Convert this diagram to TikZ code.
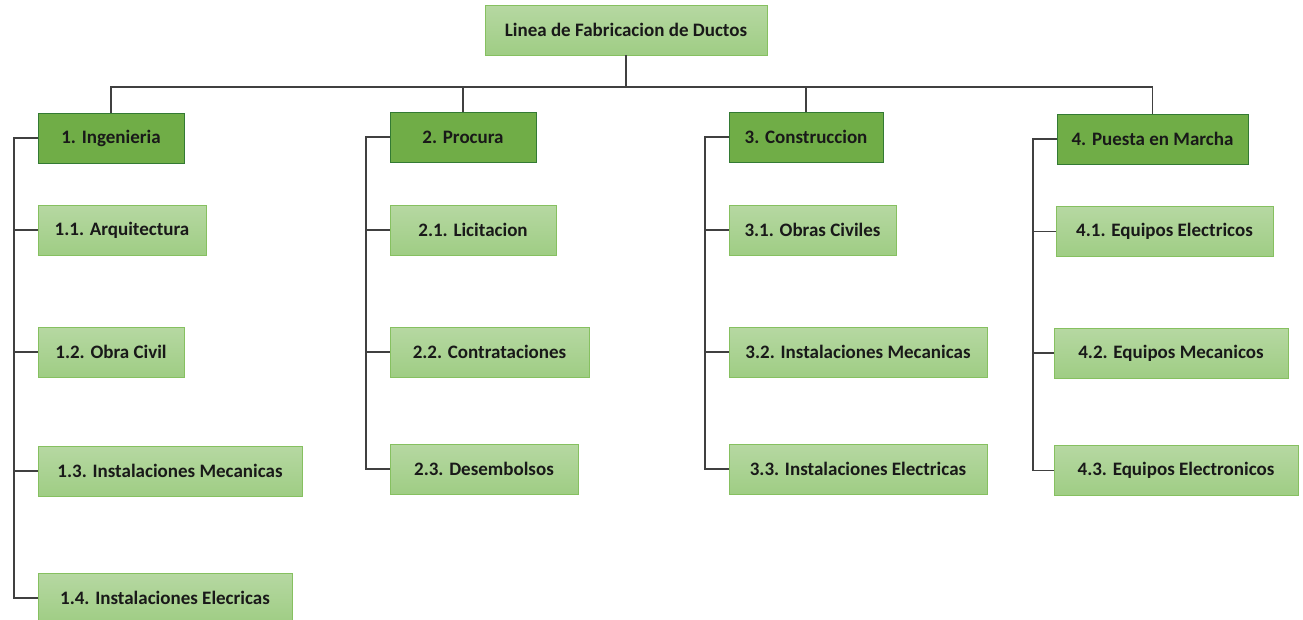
\documentclass[tikz,border=0pt]{standalone}
\usepackage{fontspec}
\setmainfont{Carlito}
\begin{document}
\begin{tikzpicture}[x=1pt,y=-1pt,
		font=\bfseries\fontsize{19}{22}\selectfont,
		hdr/.style={draw=green!35!black!80,fill=hdrgreen,minimum height=50pt,inner sep=0pt,text=black!90},
		leaf/.style={draw=leafedge,top color=leaftop,bottom color=leafbot,minimum height=50pt,inner sep=0pt,text=black!90},
		link/.style={draw=black!75,line width=1.4pt}]
	\definecolor{hdrgreen}{HTML}{70AD47}
	\definecolor{leaftop}{HTML}{B6D8A2}
	\definecolor{leafbot}{HTML}{9FCD84}
	\definecolor{leafedge}{HTML}{86C060}
	\useasboundingbox (0,0) rectangle (1303,619);
	% raiz
	\node[leaf,minimum width=282pt](root)at(626,30){Linea de Fabricacion de Ductos};
	\coordinate(bar)at(626,87);
	% fases
	\node[hdr,minimum width=146pt](ing)at(111,138){1. Ingenieria};
	\node[hdr,minimum width=146pt](pro)at(463,137){2. Procura};
	\node[hdr,minimum width=154pt](con)at(806,137){3. Construccion};
	\node[hdr,minimum width=191pt](pue)at(1152.5,139){4. Puesta en Marcha};
	% tareas
	\node[leaf,minimum width=168pt](ing1)at(122,230){1.1. Arquitectura};
	\node[leaf,minimum width=146pt](ing2)at(111,352){1.2. Obra Civil};
	\node[leaf,minimum width=264pt](ing3)at(170,471){1.3. Instalaciones Mecanicas};
	\node[leaf,minimum width=254pt](ing4)at(165,598){1.4. Instalaciones Elecricas};
	\node[leaf,minimum width=166pt](pro1)at(473,230){2.1. Licitacion};
	\node[leaf,minimum width=199pt](pro2)at(489.5,352){2.2. Contrataciones};
	\node[leaf,minimum width=188pt](pro3)at(484,469){2.3. Desembolsos};
	\node[leaf,minimum width=167pt](con1)at(812.5,230){3.1. Obras Civiles};
	\node[leaf,minimum width=258pt](con2)at(858,352){3.2. Instalaciones Mecanicas};
	\node[leaf,minimum width=258pt](con3)at(858,469){3.3. Instalaciones Electricas};
	\node[leaf,minimum width=217pt](pue1)at(1164.5,231.5){4.1. Equipos Electricos};
	\node[leaf,minimum width=234pt](pue2)at(1171,353){4.2. Equipos Mecanicos};
	\node[leaf,minimum width=244pt](pue3)at(1176,470.5){4.3. Equipos Electronicos};
	% conexiones
	\foreach \f in {ing,pro,con,pue}
		\draw[link](root.south)--(bar)-|(\f.north);
	\foreach \f/\n in {ing/4,pro/3,con/3,pue/3}{
		\coordinate(\f s)at([xshift=-24pt]\f.west);
		\foreach \i in {1,...,\n}
			\draw[link](\f.west)--(\f s)|-(\f\i.west);
	}
\end{tikzpicture}
\end{document}
